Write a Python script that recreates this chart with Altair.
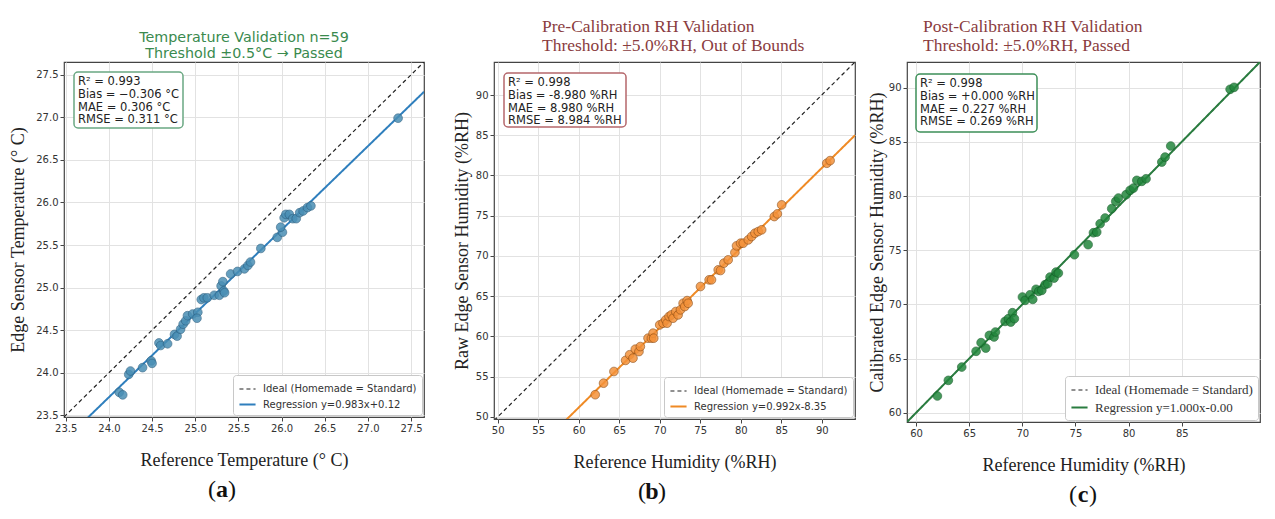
import altair as alt
import pandas as pd

# ---------------- data ----------------
# Panel (a) temperature
a_ref = [24.12, 24.16, 24.23, 24.25, 24.39, 24.49, 24.50, 24.58, 24.60, 24.68,
         24.76, 24.79, 24.83, 24.86, 24.89, 24.91, 24.97, 25.03, 25.02, 25.07,
         25.10, 25.14, 25.22, 25.28, 25.30, 25.32, 25.33, 25.34, 25.41, 25.49,
         25.57, 25.61, 25.64, 25.76, 25.95, 26.01, 25.99, 26.03, 26.05, 26.09,
         26.13, 26.17, 26.21, 26.25, 26.30, 26.34, 27.35]
a_edge = [23.77, 23.74, 23.98, 24.02, 24.06, 24.14, 24.11, 24.35, 24.32, 24.34,
          24.45, 24.43, 24.51, 24.57, 24.61, 24.67, 24.69, 24.71, 24.64, 24.86,
          24.88, 24.88, 24.91, 24.91, 25.02, 25.07, 24.96, 24.94, 25.16, 25.19,
          25.22, 25.26, 25.30, 25.46, 25.59, 25.65, 25.71, 25.82, 25.86, 25.86,
          25.81, 25.81, 25.88, 25.90, 25.94, 25.96, 26.99]

# Panel (b) raw humidity
b_ref = [62.04, 63.07, 64.35, 65.79, 66.29, 66.70, 66.99, 67.44, 67.61, 68.56,
         68.97, 69.18, 69.26, 70.00, 70.41, 70.74, 70.91, 71.15, 71.44, 71.65,
         71.98, 72.27, 72.56, 72.89, 73.09, 73.38, 73.51, 75.03, 76.10, 76.39,
         77.22, 77.51, 77.92, 78.45, 79.28, 79.48, 79.98, 80.31, 80.93, 81.34,
         81.75, 82.16, 82.58, 84.14, 84.52, 85.05, 90.62, 91.03]
b_edge = [52.77, 54.20, 55.65, 57.03, 57.73, 57.31, 58.42, 58.13, 58.75, 59.79,
          59.79, 60.41, 59.79, 61.44, 61.65, 62.06, 61.65, 62.48, 62.68, 62.27,
          63.10, 62.68, 63.31, 64.13, 63.72, 64.46, 64.13, 66.21, 67.04, 67.04,
          68.28, 68.20, 69.11, 69.52, 70.43, 71.26, 71.59, 71.59, 72.00, 72.42,
          72.83, 73.04, 73.25, 74.90, 75.23, 76.35, 81.52, 81.85]

# Panel (c) calibrated humidity
c_ref = [62.01, 63.04, 64.30, 65.65, 66.12, 66.56, 66.90, 67.34, 67.47, 68.38,
         68.69, 68.91, 69.07, 69.25, 70.01, 70.26, 70.73, 70.98, 71.29, 71.54,
         71.83, 72.14, 72.39, 72.61, 72.99, 73.17, 73.39, 74.90, 76.19, 76.69,
         77.00, 77.32, 77.79, 78.41, 78.79, 79.04, 79.76, 80.14, 80.45, 80.77,
         81.24, 81.64, 83.12, 83.43, 83.96, 89.55, 89.92]
c_edge = [61.55, 62.99, 64.22, 65.67, 66.47, 65.97, 67.14, 66.99, 67.45, 68.43,
          68.68, 68.37, 69.23, 68.68, 70.68, 70.37, 70.89, 70.46, 71.39, 71.20,
          71.29, 71.82, 71.91, 72.52, 72.43, 72.98, 72.89, 74.58, 75.51, 76.61,
          76.67, 77.44, 77.97, 78.83, 79.50, 79.81, 80.12, 80.52, 80.73, 81.44,
          81.35, 81.59, 83.13, 83.59, 84.61, 89.84, 90.02]

# fitted lines (coefficients as printed on the chart)
a_fit = (0.983, 0.12)
b_fit = (0.992, -8.35)
c_fit = (1.000, 0.00)

# axis domains and ticks
a_xdom, a_ydom = [23.48, 27.65], [23.48, 27.65]
b_xdom, b_ydom = [49.55, 94.1], [49.75, 94.1]
c_xdom, c_ydom = [59.15, 92.36], [59.15, 92.36]
a_ticks = [23.5, 24.0, 24.5, 25.0, 25.5, 26.0, 26.5, 27.0, 27.5]
b_ticks = [50, 55, 60, 65, 70, 75, 80, 85, 90]
c_xticks = [60, 65, 70, 75, 80, 85]
c_yticks = [60, 65, 70, 75, 80, 85, 90]

a_stats = "R² = 0.993\nBias = −0.306 °C\nMAE = 0.306 °C\nRMSE = 0.311 °C"
b_stats = "R² = 0.998\nBias = -8.980 %RH\nMAE = 8.980 %RH\nRMSE = 8.984 %RH"
c_stats = "R² = 0.998\nBias = +0.000 %RH\nMAE = 0.227 %RH\nRMSE = 0.269 %RH"

IDEAL = "Ideal (Homemade = Standard)"


def panel(ref, meas, fit, xdom, ydom, xticks, yticks, fmt, xtitle, ytitle,
          ytpad, title, stats, box, box_col, pt_fill, pt_edge, line_col,
          reg_label, legend_font, legend_size, w, h, letter, cap_dx, spacer=None):
    xs = alt.Scale(domain=xdom, nice=False, zero=False)
    ys = alt.Scale(domain=ydom, nice=False, zero=False)
    xa = alt.Axis(values=xticks, format=fmt, title=xtitle, titlePadding=18)
    ya = alt.Axis(values=yticks, format=fmt, title=ytitle, titlePadding=ytpad)
    slope, icpt = fit
    lines = pd.DataFrame({
        "series": [IDEAL, IDEAL, reg_label, reg_label],
        "x": [xdom[0], xdom[1], xdom[0], xdom[1]],
        "y": [xdom[0], xdom[1], slope * xdom[0] + icpt, slope * xdom[1] + icpt],
    })
    dom = [IDEAL, reg_label]
    leg = alt.Legend(title=None, orient="bottom-right", offset=2,
                     fillColor="white", strokeColor="#c8c8c8", cornerRadius=3,
                     padding=5, symbolType="stroke", symbolSize=260,
                     labelFont=legend_font, labelFontSize=legend_size,
                     labelColor="#333333", labelLimit=400, rowPadding=1,
                     labelOffset=6)
    line_layer = alt.Chart(lines).mark_line(clip=True).encode(
        x=alt.X("x:Q", scale=xs, axis=xa),
        y=alt.Y("y:Q", scale=ys, axis=ya),
        color=alt.Color("series:N", scale=alt.Scale(domain=dom, range=["#222222", line_col]), legend=leg),
        strokeDash=alt.StrokeDash("series:N", scale=alt.Scale(domain=dom, range=[[4, 3], [1, 0]]), legend=leg),
        strokeWidth=alt.StrokeWidth("series:N", scale=alt.Scale(domain=dom, range=[1.2, 2.0]), legend=leg),
    )
    pts = pd.DataFrame({"ref": ref, "meas": meas})
    pt_layer = alt.Chart(pts).mark_circle(size=76, color=pt_fill, stroke=pt_edge,
                                          strokeWidth=0.7, opacity=0.85).encode(
        x=alt.X("ref:Q", scale=xs), y=alt.Y("meas:Q", scale=ys))
    bx0, by0, bx1, by1 = box
    one = pd.DataFrame({"t": [stats]})
    rect = alt.Chart(one).mark_rect(fill="white", stroke=box_col, strokeWidth=1.5,
                                    cornerRadius=4).encode(
        x=alt.value(bx0), x2=alt.value(bx1), y=alt.value(by0), y2=alt.value(by1))
    txt = alt.Chart(one).mark_text(align="left", baseline="top", font="DejaVu Sans",
                                   fontSize=11.5, lineHeight=12.8, lineBreak="\n",
                                   color="#222222").encode(
        text="t:N", x=alt.value(bx0 + 4), y=alt.value(by0 + 4))
    cx = cap_dx
    cy = h + 73
    cap_df = pd.DataFrame({"t": ["("]})
    cap1 = alt.Chart(cap_df).mark_text(align="right", baseline="middle", font="Liberation Serif",
                                       fontSize=24, color="#111111").encode(
        text=alt.value("("), x=alt.value(cx - 6), y=alt.value(cy))
    cap2 = alt.Chart(cap_df).mark_text(align="center", baseline="middle", font="Liberation Serif",
                                       fontSize=24, fontWeight="bold", color="#111111").encode(
        text=alt.value(letter), x=alt.value(cx), y=alt.value(cy))
    cap3 = alt.Chart(cap_df).mark_text(align="left", baseline="middle", font="Liberation Serif",
                                       fontSize=24, color="#111111").encode(
        text=alt.value(")"), x=alt.value(cx + 6), y=alt.value(cy))
    layers = [line_layer, pt_layer, rect, txt, cap1, cap2, cap3]
    if spacer is not None:
        sp = alt.Chart(cap_df).mark_text(align="right", opacity=0, fontSize=10).encode(
            text=alt.value("."), x=alt.value(w + spacer), y=alt.value(h / 2))
        layers.append(sp)
    return alt.layer(*layers).properties(width=w, height=h, title=title)


ta = alt.TitleParams(text=["Temperature Validation n=59", "Threshold ±0.5°C → Passed"],
                     anchor="middle", frame="group", font="DejaVu Sans", fontSize=14.3,
                     fontWeight="normal", color="#3a8a4e", lineHeight=16, offset=1)
tb = alt.TitleParams(text=["Pre-Calibration RH Validation", "Threshold: ±5.0%RH, Out of Bounds"],
                     anchor="start", frame="group", align="left", dx=48, font="Liberation Serif",
                     fontSize=17.5, fontWeight="normal", color="#8a3c40", lineHeight=19, offset=8)
tc = alt.TitleParams(text=["Post-Calibration RH Validation", "Threshold: ±5.0%RH, Passed"],
                     anchor="start", frame="group", align="left", dx=16, font="Liberation Serif",
                     fontSize=17.5, fontWeight="normal", color="#8a3c40", lineHeight=19, offset=8)

pa = panel(a_ref, a_edge, a_fit, a_xdom, a_ydom, a_ticks, a_ticks, ".1f",
           "Reference Temperature (° C)", "Edge Sensor Temperature (° C)", 8, ta,
           a_stats, (10, 10, 119, 66), "#6aa882", "#4a8fb5", "#2c5f80", "#2f7fbd",
           "Regression y=0.983x+0.12", "DejaVu Sans", 10, 360, 355, "a", 158, spacer=16)
pb = panel(b_ref, b_edge, b_fit, b_xdom, b_ydom, b_ticks, b_ticks, "d",
           "Reference Humidity (%RH)", "Raw Edge Sensor Humidity (%RH)", 4, tb,
           b_stats, (10, 11, 132, 65), "#b5676b", "#f4923a", "#8a4a14", "#ef8a25",
           "Regression y=0.992x-8.35", "DejaVu Sans", 10, 361, 357, "b", 158)
pc = panel(c_ref, c_edge, c_fit, c_xdom, c_ydom, c_xticks, c_yticks, "d",
           "Reference Humidity (%RH)", "Calibrated Edge Sensor Humidity (%RH)", 2, tc,
           c_stats, (9, 12, 130, 70), "#3c8f58", "#23873d", "#145a26", "#2a7d40",
           "Regression y=1.000x-0.00", "Liberation Serif", 13, 353, 360, "c", 176)

chart = alt.hconcat(pa, pb, pc, spacing=11, bounds="full").resolve_scale(
    x="independent", y="independent", color="independent",
    strokeDash="independent", strokeWidth="independent"
).properties(padding={"left": 9, "top": 16, "right": 5, "bottom": 5}).configure_view(
    stroke="#444444", strokeWidth=1.2
).configure_axis(
    grid=True, gridColor="#e2e2e2", gridWidth=1, domain=False, tickColor="#444444",
    tickSize=4, labelPadding=2, labelFont="DejaVu Sans", labelFontSize=10,
    labelColor="#333333", titleFont="Liberation Serif", titleFontSize=18,
    titleFontWeight="normal", titleColor="#222222"
)

chart.save("out.html", embed_options={"renderer": "svg", "actions": False})
